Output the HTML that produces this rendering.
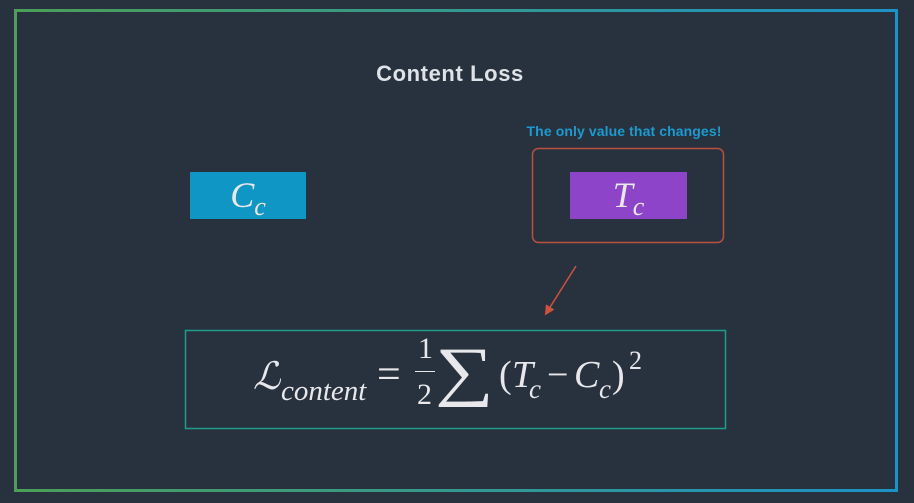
<!DOCTYPE html>
<html><head><meta charset="utf-8"><style>
html,body{margin:0;padding:0}
body{width:914px;height:503px;background:#28323e;position:relative;overflow:hidden;font-family:"Liberation Sans",sans-serif}
.abs{position:absolute}
.m{font-family:"Liberation Serif","DejaVu Serif",serif;font-style:italic;color:#e8e8ec}
</style></head><body>
<svg class="abs" style="left:0;top:0" width="914" height="503">
<defs><linearGradient id="g" x1="0" y1="0" x2="1" y2="0">
<stop offset="0" stop-color="#4c9f58"/><stop offset="1" stop-color="#1c92c6"/></linearGradient>
<marker id="ah" markerWidth="10" markerHeight="10" refX="6" refY="5" orient="auto" markerUnits="userSpaceOnUse">
<path d="M0,0 L10,5 L0,10 z" fill="#d0513e"/></marker></defs>
<rect x="15.5" y="10.5" width="881" height="480" fill="none" stroke="url(#g)" stroke-width="3"/>
<rect x="532.5" y="148.5" width="191" height="94" rx="6" fill="none" stroke="#b9503f" stroke-width="1.5"/>
<line x1="576" y1="266" x2="547" y2="312" stroke="#d0513e" stroke-width="1.5" marker-end="url(#ah)"/>
<rect x="185.5" y="330.5" width="540" height="98" fill="none" stroke="#1f9c8c" stroke-width="1.5"/>
<rect x="190" y="172" width="116" height="47" fill="#1096c4"/>
<rect x="570" y="172" width="117" height="47" fill="#8e44c9"/>
</svg>
<div class="abs" style="left:300px;top:61px;width:300px;text-align:center;color:#dfe2e6;font-size:22px;font-weight:bold;letter-spacing:0.6px">Content Loss</div>
<div class="abs" style="left:474px;top:123px;width:300px;text-align:center;color:#1b9bd0;font-size:14px;font-weight:bold;letter-spacing:0.1px">The only value that changes!</div>
<div class="abs m" style="left:190px;top:172px;width:116px;text-align:center;font-size:36px;line-height:47px">C<sub style="font-size:26px;vertical-align:-8px">c</sub></div>
<div class="abs m" style="left:570px;top:172px;width:117px;text-align:center;font-size:36px;line-height:47px">T<sub style="font-size:26px;vertical-align:-8px">c</sub></div>
<div class="abs m" style="left:255px;top:335px;width:420px;height:90px;font-size:38px;line-height:44px;white-space:nowrap">
<span class="abs" style="left:-2px;top:20px">ℒ</span>
<span class="abs" style="left:26px;top:34px;font-size:29px">content</span>
<span class="abs" style="left:122px;top:18px;font-style:normal;font-size:42px">=</span>
<span class="abs" style="left:163px;top:-8px;font-style:normal;font-size:30px">1</span>
<span class="abs" style="left:160px;top:36px;width:20px;border-top:1.5px solid #e8e8ec"></span>
<span class="abs" style="left:162px;top:38px;font-style:normal;font-size:30px">2</span>
<span class="abs" style="left:180px;top:4px;font-style:normal;font-size:66px;line-height:66px;font-weight:300;transform:scaleX(1.25);transform-origin:left">∑</span>
<span class="abs" style="left:244px;top:18px;font-style:normal">(</span>
<span class="abs" style="left:257px;top:18px">T</span>
<span class="abs" style="left:274px;top:32px;font-size:27px">c</span>
<span class="abs" style="left:292px;top:18px;font-style:normal">−</span>
<span class="abs" style="left:319px;top:18px">C</span>
<span class="abs" style="left:344px;top:32px;font-size:27px">c</span>
<span class="abs" style="left:357px;top:18px;font-style:normal">)</span>
<span class="abs" style="left:374px;top:4px;font-style:normal;font-size:26px">2</span>
</div>
</body></html>
